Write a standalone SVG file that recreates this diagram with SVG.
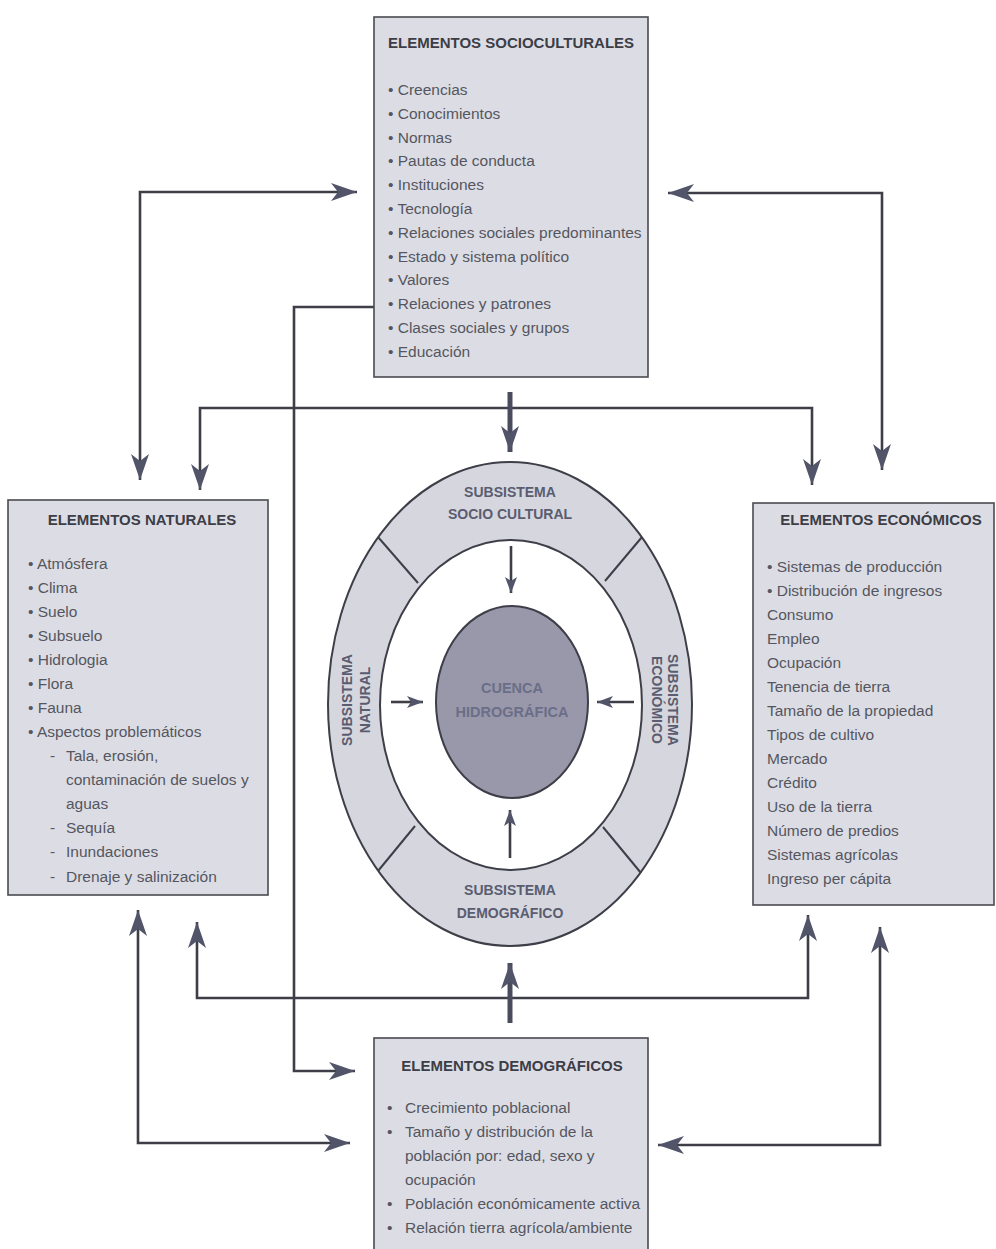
<svg xmlns="http://www.w3.org/2000/svg" width="996" height="1249" viewBox="0 0 996 1249">
<defs>
<style>
.box{fill:#dcdde4;stroke:#4a4a50;stroke-width:1.6}
.ttl{font-family:"Liberation Sans",Arial,sans-serif;font-weight:bold;font-size:15px;fill:#3c3d46}
.itm{font-family:"Liberation Sans",Arial,sans-serif;font-size:15.5px;fill:#55565f}
.sub{font-family:"Liberation Sans",Arial,sans-serif;font-weight:bold;font-size:14px;fill:#5a5c70;text-anchor:middle}
.core{font-family:"Liberation Sans",Arial,sans-serif;font-weight:bold;font-size:14.5px;fill:#6b6e88;text-anchor:middle}
.ln{fill:none;stroke:#3e3e48;stroke-width:2.6}
.thick{fill:none;stroke:#4a4c5e;stroke-width:5}
.ring{stroke:#3e3e48;stroke-width:2}
</style>
<marker id="ah" markerUnits="userSpaceOnUse" markerWidth="28" markerHeight="20" refX="26" refY="9" orient="auto-start-reverse">
<path d="M0,0 L26,9 L0,18 L7,9 Z" fill="#525569"/>
</marker>
<marker id="ahs" markerUnits="userSpaceOnUse" markerWidth="18" markerHeight="14" refX="16" refY="6" orient="auto-start-reverse">
<path d="M0,0 L16,6 L0,12 L4,6 Z" fill="#525569"/>
</marker>
</defs>
<rect width="996" height="1249" fill="#ffffff"/>

<g id="connectors">
<path class="ln" d="M357,192 H140 V480" marker-start="url(#ah)" marker-end="url(#ah)"/>
<path class="ln" d="M668,193 H882 V470" marker-start="url(#ah)" marker-end="url(#ah)"/>
<path class="ln" d="M374,307 H294 V1071 H355" marker-end="url(#ah)"/>
<path class="ln" d="M200,490 V408 H812 V485" marker-start="url(#ah)" marker-end="url(#ah)"/>
<path class="thick" d="M510,392 V452" marker-end="url(#ah)"/>
<path class="ln" d="M197,922 V998 H808 V915" marker-start="url(#ah)" marker-end="url(#ah)"/>
<path class="thick" d="M510,1023 V963" marker-end="url(#ah)"/>
<path class="ln" d="M138,910 V1143 H350" marker-start="url(#ah)" marker-end="url(#ah)"/>
<path class="ln" d="M880,927 V1145 H658" marker-start="url(#ah)" marker-end="url(#ah)"/>
</g>

<g id="socioculturales">
<rect class="box" x="374" y="17" width="274" height="360"/>
<text class="ttl" x="388" y="48">ELEMENTOS SOCIOCULTURALES</text>
<g class="itm">
<text x="388" y="95">• Creencias</text>
<text x="388" y="119">• Conocimientos</text>
<text x="388" y="143">• Normas</text>
<text x="388" y="166">• Pautas de conducta</text>
<text x="388" y="190">• Instituciones</text>
<text x="388" y="214">• Tecnología</text>
<text x="388" y="238">• Relaciones sociales predominantes</text>
<text x="388" y="262">• Estado y sistema político</text>
<text x="388" y="285">• Valores</text>
<text x="388" y="309">• Relaciones y patrones</text>
<text x="388" y="333">• Clases sociales y grupos</text>
<text x="388" y="357">• Educación</text>
</g>
</g>

<g id="naturales">
<rect class="box" x="8" y="500" width="260" height="395"/>
<text class="ttl" x="142" y="525" text-anchor="middle">ELEMENTOS NATURALES</text>
<g class="itm">
<text x="28" y="569">• Atmósfera</text>
<text x="28" y="593">• Clima</text>
<text x="28" y="617">• Suelo</text>
<text x="28" y="641">• Subsuelo</text>
<text x="28" y="665">• Hidrologia</text>
<text x="28" y="689">• Flora</text>
<text x="28" y="713">• Fauna</text>
<text x="28" y="737">• Aspectos problemáticos</text>
<text x="50" y="761">-</text><text x="66" y="761">Tala, erosión,</text>
<text x="66" y="785">contaminación de suelos y</text>
<text x="66" y="809">aguas</text>
<text x="50" y="833">-</text><text x="66" y="833">Sequía</text>
<text x="50" y="857">-</text><text x="66" y="857">Inundaciones</text>
<text x="50" y="882">-</text><text x="66" y="882">Drenaje y salinización</text>
</g>
</g>

<g id="economicos">
<rect class="box" x="753" y="503" width="241" height="402"/>
<text class="ttl" x="881" y="525" text-anchor="middle">ELEMENTOS ECONÓMICOS</text>
<g class="itm">
<text x="767" y="572">• Sistemas de producción</text>
<text x="767" y="596">• Distribución de ingresos</text>
<text x="767" y="620">Consumo</text>
<text x="767" y="644">Empleo</text>
<text x="767" y="668">Ocupación</text>
<text x="767" y="692">Tenencia de tierra</text>
<text x="767" y="716">Tamaño de la propiedad</text>
<text x="767" y="740">Tipos de cultivo</text>
<text x="767" y="764">Mercado</text>
<text x="767" y="788">Crédito</text>
<text x="767" y="812">Uso de la tierra</text>
<text x="767" y="836">Número de predios</text>
<text x="767" y="860">Sistemas agrícolas</text>
<text x="767" y="884">Ingreso per cápita</text>
</g>
</g>

<g id="demograficos">
<rect class="box" x="374" y="1038" width="274" height="220"/>
<text class="ttl" x="512" y="1071" text-anchor="middle">ELEMENTOS DEMOGRÁFICOS</text>
<g class="itm">
<text x="387" y="1113">•</text><text x="405" y="1113">Crecimiento poblacional</text>
<text x="387" y="1137">•</text><text x="405" y="1137">Tamaño y distribución de la</text>
<text x="405" y="1161">población por: edad, sexo y</text>
<text x="405" y="1185">ocupación</text>
<text x="387" y="1209">•</text><text x="405" y="1209">Población económicamente activa</text>
<text x="387" y="1233">•</text><text x="405" y="1233">Relación tierra agrícola/ambiente</text>
</g>
</g>

<g id="subsistemas">
<ellipse class="ring" cx="510" cy="704" rx="182" ry="242" fill="#d6d7de"/>
<ellipse class="ring" cx="511" cy="705" rx="131" ry="165" fill="#ffffff"/>
<line class="ring" x1="378" y1="537" x2="418" y2="583"/>
<line class="ring" x1="642" y1="537" x2="605" y2="581"/>
<line class="ring" x1="378" y1="871" x2="415" y2="826"/>
<line class="ring" x1="641" y1="873" x2="603" y2="827"/>
<text class="sub" x="510" y="497">SUBSISTEMA</text>
<text class="sub" x="510" y="519">SOCIO CULTURAL</text>
<text class="sub" x="510" y="895">SUBSISTEMA</text>
<text class="sub" x="510" y="918">DEMOGRÁFICO</text>
<text class="sub" transform="translate(352,700) rotate(-90)">SUBSISTEMA</text>
<text class="sub" transform="translate(370,700) rotate(-90)">NATURAL</text>
<text class="sub" transform="translate(668,700) rotate(90)">SUBSISTEMA</text>
<text class="sub" transform="translate(652,700) rotate(90)">ECONÓMICO</text>
</g>

<g id="cuenca">
<ellipse class="ring" cx="512" cy="702" rx="76" ry="96" fill="#9898aa"/>
<text class="core" x="512" y="693">CUENCA</text>
<text class="core" x="512" y="717">HIDROGRÁFICA</text>
</g>

<g id="inner-arrows">
<path class="ln" d="M511,546 V593" marker-end="url(#ahs)"/>
<path class="ln" d="M391,702 H423" marker-end="url(#ahs)"/>
<path class="ln" d="M634,702 H597" marker-end="url(#ahs)"/>
<path class="ln" d="M510,858 V810" marker-end="url(#ahs)"/>
</g>
</svg>
